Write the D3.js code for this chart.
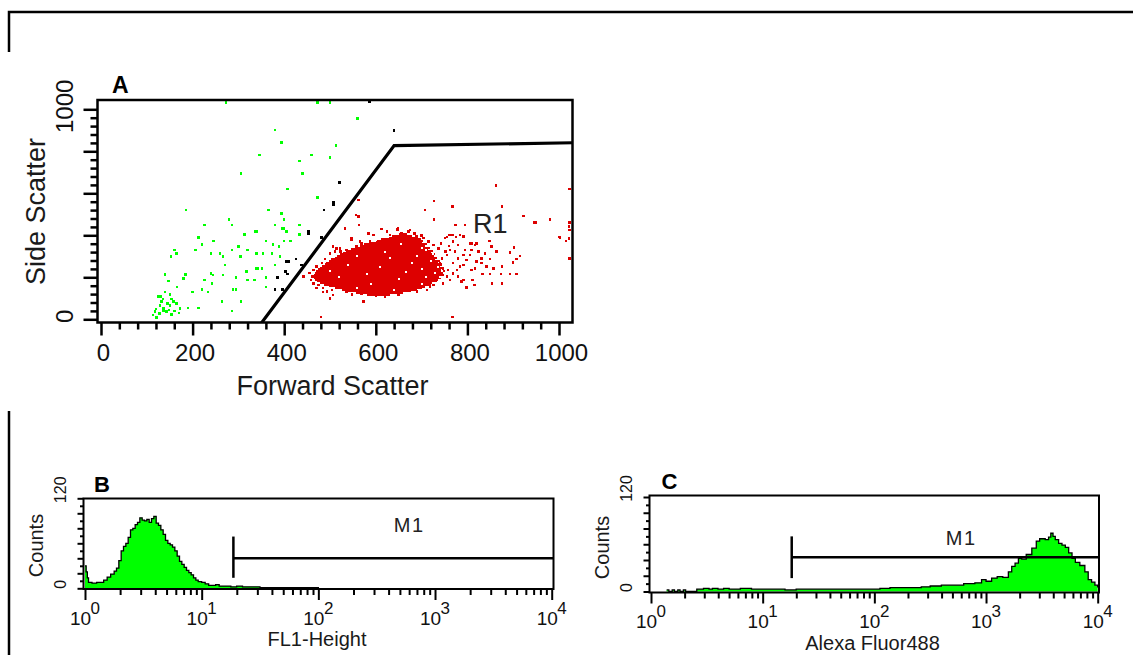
<!DOCTYPE html>
<html><head><meta charset="utf-8">
<script src="https://cdn.jsdelivr.net/npm/d3@7"></script>
<style>
html,body{margin:0;padding:0;background:#fff;}
svg{display:block;font-family:Arial,"Liberation Sans",sans-serif;}
</style></head><body>
<svg id="c" width="1133" height="655"></svg>
<script>
// ---------------- DATA ----------------
// Panel A: scatter (Forward Scatter, Side Scatter)
const greenPts = [[273,1032],[473,1032],[500,1032],[560,957],[380,901],[394,841],[513,827],[346,782],[460,782],[500,770],[433,754],[440,695],[306,695],[407,620],[473,579],[186,520],[366,520],[394,505],[280,476],[400,476],[226,449],[286,449],[380,449],[433,449],[395,433],[400,433],[336,417],[341,417],[405,417],[313,405],[433,405],[213,389],[246,373],[360,373],[400,373],[414,373],[220,357],[300,346],[375,357],[389,346],[161,330],[206,330],[286,330],[320,330],[165,314],[240,314],[260,314],[340,314],[354,314],[373,314],[153,298],[266,298],[305,298],[391,298],[271,259],[340,243],[343,243],[352,243],[380,259],[240,219],[245,212],[318,227],[140,214],[185,214],[180,195],[226,187],[266,211],[295,198],[320,187],[335,187],[360,198],[147,182],[242,171],[166,155],[220,143],[288,143],[295,143],[200,129],[234,129],[360,155],[264,84],[306,84],[213,55],[190,55],[286,40],[125,108],[130,108],[135,97],[151,119],[154,97],[158,84],[145,76],[129,65],[136,52],[151,65],[165,76],[172,52],[143,36],[154,24],[118,36],[114,20],[121,8],[136,40],[132,84],[140,131],[160,40],[148,45],[128,28],[170,30],[120,50]];
const blackPts = [[587,1036],[640,898],[520,650],[507,558],[507,548],[487,520],[453,417],[453,406],[482,389],[426,287],[405,274],[410,274],[403,227],[407,216],[386,198],[438,259],[380,143],[397,143]];
const redPts = [[862,636],[1023,620],[727,563],[767,536],[875,536],[707,520],[562,568],[557,497],[562,489],[922,492],[727,476],[774,449],[795,449],[949,460],[980,476],[1023,460],[1023,425],[563,449],[533,433],[648,433],[755,393],[767,401],[775,393],[1002,389],[1015,373],[848,373],[809,362],[820,362],[1023,290],[853,346],[864,322],[902,343],[893,317],[915,301],[907,286],[900,270],[849,286],[831,267],[842,251],[857,241],[875,251],[873,216],[893,216],[907,216],[833,216],[849,216],[854,171],[876,171],[811,187],[816,163],[791,187],[798,152],[715,179],[718,155],[573,84],[480,12],[767,12],[500,100],[507,116],[485,131],[464,171],[442,203],[620,116],[1022,441],[1022,384],[1000,393],[946,462],[507,346],[514,336],[523,322],[547,386],[565,370],[555,322]];
const redHalo = [[584,409],[595,401],[624,417],[631,401],[647,428],[656,409],[671,417],[684,409],[689,394],[704,386],[715,370],[726,354],[737,338],[751,386],[761,401],[769,370],[780,354],[784,401],[791,394],[806,362],[817,354],[587,370],[569,362],[558,346],[547,378],[536,330],[522,338],[511,322],[500,314],[489,286],[482,267],[471,251],[464,235],[462,203],[465,171],[475,163],[485,148],[493,132],[504,140],[522,148],[536,132],[558,140],[569,124],[587,127],[609,124],[620,108],[631,136],[660,140],[682,148],[704,156],[726,163],[747,171],[755,203],[762,187],[769,219],[777,235],[784,251],[791,259],[798,282],[806,306],[791,306],[780,290],[773,322],[762,330],[755,306],[744,290],[740,267],[747,243],[758,235],[769,267],[744,219],[733,187],[718,163],[780,203],[787,179],[809,235],[817,243],[820,275],[831,290],[838,314],[824,322],[795,330],[809,330],[612,430],[675,425],[700,398],[742,362],[760,350],[752,322],[455,220],[458,188],[470,150],[548,118],[600,112],[650,118],[690,132],[712,140]];
// dense red core: [sideScatter, fsc from, fsc to]
const redCoreRows = [[405,650,668],[397,636,680],[389,628,690],[381,612,698],[373,600,704],[365,590,700],[357,575,712],[349,566,708],[341,556,718],[333,545,714],[325,536,724],[317,528,720],[309,522,730],[301,516,726],[293,510,734],[285,502,730],[277,498,740],[269,492,736],[261,488,744],[253,482,740],[245,478,748],[237,474,742],[229,470,750],[221,468,744],[213,466,748],[205,464,738],[197,466,742],[189,468,730],[181,472,734],[173,478,722],[165,486,716],[157,498,706],[149,512,700],[141,526,690],[133,540,676],[125,556,660],[117,580,630]];
// small gaps visible inside the dense core
const redCoreGaps = [[600,380],[655,360],[700,340],[560,300],[690,300],[720,280],[540,260],[610,250],[700,240],[730,220],[520,200],[650,190],[590,170],[700,170],[560,150],[640,140],[500,230],[620,320],[680,270],[710,200],[735,250],[725,310],[740,200],[710,330],[745,230],[580,215],[665,225],[630,290]];
const gateR1 = [[346,-30],[640,827],[1040,841]];
const ticksA = [0,40,80,120,160,200,240,280,320,360,400,440,480,520,560,600,640,680,720,760,800,840,880,920,960,1000];
const xLabelsA = [0,200,400,600,800,1000];
const yLabelsA = [0,1000];

// Panel B: FL1-Height histogram (decade exponent, counts)
const histB_exp = [0,0.01,0.02,0.03,0.06,0.10,0.13,0.16,0.19,0.22,0.25,0.27,0.29,0.31,0.33,0.35,0.37,0.39,0.41,0.43,0.45,0.47,0.49,0.51,0.53,0.55,0.57,0.59,0.61,0.63,0.65,0.67,0.69,0.71,0.73,0.75,0.77,0.79,0.81,0.83,0.85,0.87,0.89,0.91,0.93,0.95,0.97,1.0,1.03,1.06,1.09,1.12,1.15,1.2,1.25,1.3,1.35,1.4,1.5,1.6,1.7,1.8,1.9,2.0];
const histB_counts = [30,22,14,8,7,8,8,11,15,19,23,27,37,50,56,60,68,78,80,85,88,94,91,90,92,88,93,96,87,84,78,72,64,60,58,55,50,43,36,32,28,24,21,18,14,11,9,8,6,4,4,5,3,3,2,3,2,2,1,1,1,1,1,0];
// Panel C: Alexa Fluor488 histogram
const histC_exp = [0.14,0.16,0.19,0.21,0.24,0.26,0.29,0.31,0.41,0.47,0.52,0.55,0.6,0.65,0.7,0.75,0.8,0.9,1.0,1.1,1.2,1.3,1.4,1.5,1.6,1.7,1.8,1.9,2.0,2.05,2.14,2.3,2.42,2.5,2.6,2.7,2.8,2.9,2.96,3.0,3.05,3.1,3.15,3.2,3.23,3.26,3.29,3.32,3.36,3.41,3.45,3.48,3.53,3.56,3.58,3.6,3.62,3.65,3.68,3.71,3.74,3.77,3.8,3.84,3.885,3.915,3.945,3.975,4.0];
const histC_counts = [2,0,2,0,2,0,2,0,3,4,3,4,3,4,3,3,4,3,3,3,2,3,3,3,3,3,3,3,3,4,5,5,6,7,8,8,10,11,15,13,17,19,18,25,32,36,42,41,47,55,64,67,66,69,74,70,66,61,59,56,49,42,37,33,25,15,12,8,5];
const decadeTicks = [1,10,100,1000,10000];
const decadeExp = [0,1,2,3,4];
const minorLog = [2,3,4,5,6,7,8,9,20,30,40,50,60,70,80,90,200,300,400,500,600,700,800,900,2000,3000,4000,5000,6000,7000,8000,9000];
const countTicks = [0,10,20,30,40,50,60,70,80,90,100,110,120];
const countLabels = [0,120];
const markerB = {start:18.7, level:40, lo:14, hi:69, label:"M1", labelAt:[600,75]};
const markerC = {start:18.2, level:43.5, lo:17, hi:70, label:"M1", labelAt:[600,59]};

// ---------------- DRAW ----------------
const GREEN = "#00ff00", RED = "#dd0000";
const svg = d3.select("#c");
const defs = svg.append("defs");

// frame lines
svg.append("path").attr("d","M9,52V12H1133").attr("fill","none").attr("stroke","#000").attr("stroke-width",2.5);
svg.append("path").attr("d","M9,411V655").attr("fill","none").attr("stroke","#000").attr("stroke-width",2.5);

function addAxis(g, axis, tx, ty, sw) {
  const a = g.append("g").attr("transform", `translate(${tx},${ty})`).call(axis);
  a.attr("font-family", null).attr("font-size", null);
  a.select(".domain").remove();
  a.selectAll(".tick line").attr("stroke", "#000").attr("stroke-width", sw);
  return a;
}

// ---- Panel A ----
const A = {x0:97.5, x1:572.5, y0:100, y1:322.5};
const xA = d3.scaleLinear().domain([0,1000]).range([101,559]);
const yA = d3.scaleLinear().domain([0,1000]).range([319.3,109.3]);
const gA = svg.append("g");
defs.append("clipPath").attr("id","clipA").append("rect")
  .attr("x",A.x0).attr("y",A.y0).attr("width",A.x1-A.x0).attr("height",A.y1-A.y0);
const pA = gA.append("g").attr("clip-path","url(#clipA)");
pA.append("g").attr("shape-rendering","crispEdges").selectAll("rect").data(redCoreRows).join("rect")
  .attr("x", d=>xA(d[1])).attr("width", d=>xA(d[2])-xA(d[1]))
  .attr("y", d=>yA(d[0]+5)).attr("height", d=>yA(d[0]-5)-yA(d[0]+5)).attr("fill", RED);
function dots(data, color, s) {
  pA.append("g").attr("shape-rendering","crispEdges").selectAll("rect").data(data).join("rect")
    .attr("x", d=>xA(d[0])-s/2).attr("y", d=>yA(d[1])-s/2)
    .attr("width", s).attr("height", s).attr("fill", color);
}
dots(redCoreGaps, "#ffffff", 2);
dots(redHalo, RED, 2.5);
dots(redPts, RED, 2.5);
dots(greenPts, GREEN, 2.5);
dots(blackPts, "#000", 2.7);
pA.append("path").datum(gateR1)
  .attr("d", d3.line().x(d=>xA(d[0])).y(d=>yA(d[1])))
  .attr("fill","none").attr("stroke","#000").attr("stroke-width",3.2);
gA.append("rect").attr("x",A.x0).attr("y",A.y0).attr("width",A.x1-A.x0).attr("height",A.y1-A.y0)
  .attr("fill","none").attr("stroke","#000").attr("stroke-width",2.5);
// A axes
const gxA = addAxis(gA, d3.axisBottom(xA).tickValues(xLabelsA).tickSize(13).tickFormat(d3.format("d")), 0, A.y1, 2.5);
gxA.selectAll("text").attr("y", 38.5).attr("dy", null).attr("dx", 2).style("font-size","24px").attr("fill","#111");
addAxis(gA, d3.axisBottom(xA).tickValues(ticksA.filter(v=>xLabelsA.indexOf(v)<0)).tickSize(7).tickFormat(""), 0, A.y1, 2.5);
addAxis(gA, d3.axisLeft(yA).tickValues(xLabelsA).tickSize(14).tickFormat(""), A.x0, 0, 2.5);
addAxis(gA, d3.axisLeft(yA).tickValues(ticksA.filter(v=>xLabelsA.indexOf(v)<0)).tickSize(7).tickFormat(""), A.x0, 0, 2.5);
gA.selectAll("text.ylab").data(yLabelsA).join("text").attr("class","ylab")
  .attr("transform", d=>`translate(73,${yA(d)-3}) rotate(-90)`)
  .attr("text-anchor","middle").style("font-size","24px").attr("fill","#111").text(d=>d);
gA.append("text").attr("transform","translate(45,211.5) rotate(-90)").attr("text-anchor","middle")
  .style("font-size","27px").attr("fill","#1a1a1a").text("Side Scatter");
gA.append("text").attr("x",332.5).attr("y",395).attr("text-anchor","middle")
  .style("font-size","27px").attr("fill","#1a1a1a").text("Forward Scatter");
gA.append("text").attr("x",112).attr("y",93).style("font-size","23px").style("font-weight","bold").text("A");
gA.append("text").attr("x",473).attr("y",233).style("font-size","27px").attr("fill","#222").text("R1");

// ---- Histogram panels ----
function histPanel(p) {
  const g = svg.append("g");
  const x = d3.scaleLog().domain([1,1e4]).range(p.xr);
  const y = d3.scaleLinear().domain([0,120]).range(p.yr);
  const b = p.box;
  const id = "clip"+p.name;
  defs.append("clipPath").attr("id", id).append("rect")
    .attr("x", b.x0).attr("y", b.y0).attr("width", b.x1-b.x0).attr("height", b.y1-b.y0);
  const pts = p.exps.map((e,i)=>({v: Math.pow(10,e), c: p.counts[i]}));
  const area = d3.area().x(d=>x(d.v)).y0(y(0)).y1(d=>y(d.c)).curve(d3.curveStepAfter);
  const line = d3.line().x(d=>x(d.v)).y(d=>y(d.c)).curve(d3.curveStepAfter);
  const pl = g.append("g").attr("clip-path", `url(#${id})`);
  pl.append("path").attr("d", area(pts)).attr("fill", GREEN);
  pl.append("path").attr("d", line(pts)).attr("fill","none").attr("stroke","#000").attr("stroke-width",1.3);
  // marker
  const m = p.marker;
  g.append("line").attr("x1", x(m.start)).attr("x2", x(m.start)).attr("y1", y(m.lo)).attr("y2", y(m.hi))
    .attr("stroke","#000").attr("stroke-width",2.5);
  g.append("line").attr("x1", x(m.start)).attr("x2", b.x1).attr("y1", y(m.level)).attr("y2", y(m.level))
    .attr("stroke","#000").attr("stroke-width",2.5);
  g.append("text").attr("x", x(m.labelAt[0])).attr("y", y(m.labelAt[1])).attr("text-anchor","middle")
    .style("font-size","20px").style("letter-spacing","1.5px").attr("fill","#222").text(m.label);
  // box
  g.append("rect").attr("x", b.x0).attr("y", b.y0).attr("width", b.x1-b.x0).attr("height", b.y1-b.y0)
    .attr("fill","none").attr("stroke","#000").attr("stroke-width",2);
  // axes
  addAxis(g, d3.axisBottom(x).tickValues(decadeTicks).tickSize(11).tickFormat(""), 0, b.y1, 2);
  addAxis(g, d3.axisBottom(x).tickValues(minorLog).tickSize(6).tickFormat(""), 0, b.y1, 2);
  addAxis(g, d3.axisLeft(y).tickValues(countTicks.filter(v=>v%20===0)).tickSize(6).tickFormat(""), b.x0, 0, 2);
  addAxis(g, d3.axisLeft(y).tickValues(countTicks.filter(v=>v%20!==0)).tickSize(3.5).tickFormat(""), b.x0, 0, 2);
  const lab = g.selectAll("text.xl").data(decadeExp).join("text").attr("class","xl")
    .attr("x", d=>x(Math.pow(10,d))).attr("y", b.y1+35.5).attr("text-anchor","middle").attr("fill","#111");
  lab.append("tspan").style("font-size","19px").text("10");
  lab.append("tspan").attr("dy",-11).attr("dx",-0.5).style("font-size","17px").text(d=>d);
  g.selectAll("text.yl").data(countLabels).join("text").attr("class","yl")
    .attr("transform", d=>`translate(${b.x0-18},${y(d) - (d===120?8.5:4)}) rotate(-90)`)
    .attr("text-anchor","middle").style("font-size","16px").attr("fill","#111")
    .text(d=>d);
  g.append("text").attr("transform", `translate(${b.x0-41},${p.countsY}) rotate(-90)`).attr("text-anchor","middle")
    .style("font-size","20px").attr("fill","#1a1a1a").text("Counts");
  g.append("text").attr("x", p.title[0]).attr("y", p.title[1]).attr("text-anchor","middle")
    .style("font-size","20px").attr("fill","#1a1a1a").text(p.title[2]);
  g.append("text").attr("x", p.letter[0]).attr("y", p.letter[1]).style("font-size","22px").style("font-weight","bold").text(p.letter[2]);
}

histPanel({name:"B", box:{x0:83.5,x1:553.5,y0:498.5,y1:589}, xr:[85,551.7], yr:[588.3,498.3],
  exps:histB_exp, counts:histB_counts, marker:markerB, countsY:545.5,
  title:[317,646,"FL1-Height"], letter:[94,491.5,"B"]});
histPanel({name:"C", box:{x0:649.5,x1:1099,y0:495.5,y1:592.5}, xr:[651,1097.7], yr:[591.5,497],
  exps:histC_exp, counts:histC_counts, marker:markerC, countsY:547.5,
  title:[872.5,650,"Alexa Fluor488"], letter:[661.5,488.5,"C"]});
</script>
</body></html>
